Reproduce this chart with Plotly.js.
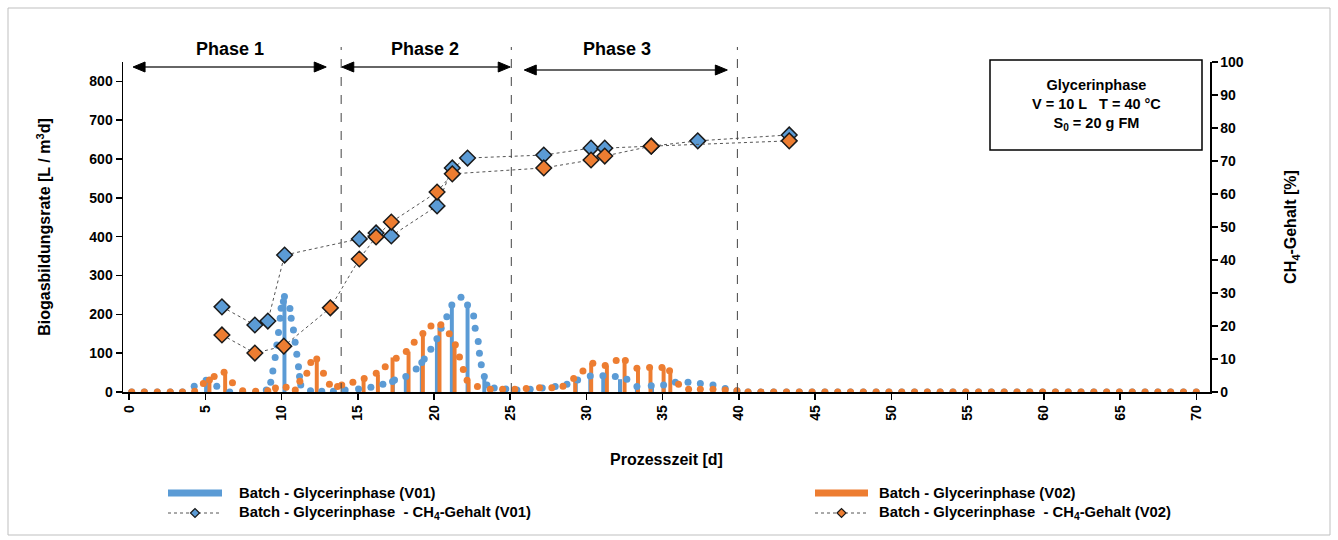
<!DOCTYPE html>
<html><head><meta charset="utf-8">
<script src="https://cdn.plot.ly/plotly-3.0.1.min.js"></script>
<style>html,body{margin:0;padding:0;background:#fff}#chart{width:1338px;height:540px}</style>
</head><body><div id="chart"></div>
<script>
// ---- Data ----
const tailDays = [40.6,41.44,42.28,43.12,43.96,44.8,45.64,46.48,47.32,48.16,49.0,49.84,50.68,51.52,52.36,53.2,54.04,54.88,55.72,56.56,57.4,58.24,59.08,59.92,60.76,61.6,62.44,63.28,64.12,64.96,65.8,66.64,67.48,68.32,69.16,70.0];
const tailRate = [0,0,0,0,0,0,0,0,0,0,0,0,0,0,0,0,0,0,0,0,0,0,0,0,0,0,0,0,0,0,0,0,0,0,0,0];

const daysV01 = [0.17,1.0,1.85,2.7,3.5,4.27,5.05,5.75,6.6,7.45,
  8.3,9.0,9.29,9.43,9.58,9.69,9.80,9.91,9.97,10.12,
  10.19,10.55,10.63,10.78,10.89,11.0,11.11,11.18,11.26,11.9,
  12.64,13.4,14.17,15.05,15.86,16.65,17.28,17.41,18.15,18.83,
  19.2,19.36,19.79,20.19,20.47,20.84,21.17,21.77,22.2,22.6,
  22.7,22.9,22.98,23.1,23.3,23.47,23.95,24.71,25.44,26.31,
  27.1,27.95,28.72,29.42,30.25,31.08,31.89,32.65,33.31,34.25,
  35.06,35.83,36.66,37.47,38.3,39.1,39.87];
const rateV01 = [0,0,0,0,0,15,30,15,0,0,
  0,5,25,54,89,121,153,190,216,233,
  246,215,190,160,128,97,65,40,18,3,
  2,2,5,8,12,20,27,31,40,59,
  76,85,110,137,164,194,224,244,224,196,
  164,130,100,70,40,18,10,8,5,7,
  10,14,20,31,41,42,40,33,14,16,
  18,25,25,22,18,9,3];

const daysV02 = [0.17,1.0,1.85,2.7,3.5,4.3,4.87,5.27,5.58,6.23,
  6.78,7.45,8.3,9.1,9.6,10.3,10.9,11.2,11.66,11.92,
  12.31,12.75,13.14,13.67,13.95,14.68,15.42,16.21,16.8,17.52,
  18.18,18.7,19.27,19.8,20.45,21.0,21.4,21.67,21.92,22.17,
  22.85,23.69,24.5,25.3,26.05,26.92,27.73,28.46,29.16,29.77,
  30.42,31.23,31.95,32.55,33.31,34.14,34.95,35.45,36.04,36.7,
  37.47,38.3,39.1,39.87];
const rateV02 = [0,0,0,0,0,2,22,31,40,51,
  24,3,2,3,10,12,5,28,48,76,
  85,48,20,14,18,25,35,48,65,87,
  104,128,151,170,173,150,122,90,58,30,
  14,7,7,7,9,11,11,15,35,54,
  74,68,81,81,61,63,63,55,20,7,
  7,7,5,3];

const barDaysV01 = [5.05,10.19,17.3,18.15,19.2,20.19,21.17,22.2,23.3,29.3,30.25,31.1,32.2,33.31,34.3,35.06];
const barRateV01 = [30,246,28,40,76,137,224,224,40,31,41,42,33,14,16,18];
const barDaysV02 = [5.27,6.3,9.6,12.31,15.38,16.32,17.28,18.33,19.27,20.36,21.35,22.27,29.26,30.31,31.34,32.5,33.38,34.2,35.06,35.5];
const barRateV02 = [31,51,10,85,35,45,89,104,153,175,128,27,35,74,68,81,61,61,63,55];

const ch4DaysV01 = [6.09,8.25,9.1,10.2,15.1,16.2,17.2,20.2,21.2,22.2,27.2,30.3,31.2,34.25,37.3,43.3];
const ch4V01 = [25.8,20.3,21.5,41.5,46.4,48.2,47.3,56.4,67.9,70.9,71.8,73.9,73.9,74.5,76.1,77.9];
const ch4DaysV02 = [6.09,8.25,10.15,13.2,15.1,16.2,17.2,20.2,21.2,27.2,30.3,31.2,34.25,43.3];
const ch4V02 = [17.3,11.8,13.9,25.5,40.3,47.0,51.5,60.6,66.1,67.9,70.3,71.5,74.5,76.1];

const phaseBounds = [13.91, 25.07, 39.9];
const phaseLabels = ['Phase 1','Phase 2','Phase 3'];
const xTicks = [0,5,10,15,20,25,30,35,40,45,50,55,60,65,70];

// ---- Styles ----
const BLUE = '#5B9BD5', ORANGE = '#ED7D31';
const FONT = 'Liberation Sans, Arial, sans-serif';

const traces = [
  {type:'bar', x:barDaysV01, y:barRateV01, width:0.26, marker:{color:BLUE}, showlegend:false, hoverinfo:'skip'},
  {type:'bar', x:barDaysV02, y:barRateV02, width:0.26, marker:{color:ORANGE}, showlegend:false, hoverinfo:'skip'},
  {type:'scatter', mode:'markers', x:daysV01.concat(tailDays), y:rateV01.concat(tailRate), marker:{color:BLUE, size:7}, showlegend:false},
  {type:'scatter', mode:'markers', x:daysV02.concat(tailDays), y:rateV02.concat(tailRate), marker:{color:ORANGE, size:7}, showlegend:false},
  {type:'scatter', mode:'lines+markers', x:ch4DaysV01, y:ch4V01, yaxis:'y2',
    line:{color:'#555', width:1, dash:'dot'},
    marker:{symbol:'diamond', size:12, color:BLUE, line:{color:'#1a1a1a', width:1.5}}, showlegend:false},
  {type:'scatter', mode:'lines+markers', x:ch4DaysV02, y:ch4V02, yaxis:'y2',
    line:{color:'#555', width:1, dash:'dot'},
    marker:{symbol:'diamond', size:12, color:ORANGE, line:{color:'#1a1a1a', width:1.5}}, showlegend:false}
];

// geometry helpers (paper coords)
const PW = 1087, PH = 330, L = 123;
const px = x => (x - L) / PW;
const py = y => (392 - y) / PH;

const shapes = [];
const annotations = [];

// outer frame
shapes.push({type:'rect', xref:'paper', yref:'paper', x0:px(8), x1:px(1330), y0:py(535), y1:py(8), line:{color:'#bfbfbf', width:1}});

// phase dashed lines
phaseBounds.forEach(d => shapes.push({type:'line', xref:'x', yref:'paper', x0:d, x1:d, y0:0, y1:py(47), line:{color:'#444', width:1, dash:'dash'}}));

// phase arrows
const arrows = [[0.26,12.93,67],[13.95,25.0,67],[25.92,39.24,70]];
const labelX = [6.63,19.42,32.02];
const dayPx = PW / 71.3;
arrows.forEach((a,i) => {
  const [d0,d1,yy] = a;
  const hl = 12/dayPx, hh = 5/PH;
  const yc = py(yy);
  shapes.push({type:'line', xref:'x', yref:'paper', x0:d0+hl*0.8, x1:d1-hl*0.8, y0:yc, y1:yc, line:{color:'#333', width:1.5}});
  shapes.push({type:'path', xref:'x', yref:'paper', path:`M ${d0} ${yc} L ${d0+hl} ${yc+hh} L ${d0+hl} ${yc-hh} Z`, fillcolor:'#000', line:{color:'#000', width:1}});
  shapes.push({type:'path', xref:'x', yref:'paper', path:`M ${d1} ${yc} L ${d1-hl} ${yc+hh} L ${d1-hl} ${yc-hh} Z`, fillcolor:'#000', line:{color:'#000', width:1}});
  annotations.push({xref:'x', yref:'paper', x:labelX[i], y:py(49), xanchor:'center', yanchor:'middle', text:phaseLabels[i], showarrow:false,
    font:{family:FONT, size:18, color:'#000', weight:'bold'}});
});

// info box
shapes.push({type:'rect', xref:'paper', yref:'paper', x0:px(990), x1:px(1202), y0:py(150), y1:py(60), line:{color:'#000', width:1.5}, fillcolor:'#fff', layer:'below'});
annotations.push({xref:'paper', yref:'paper', x:px(1096), y:py(105), xanchor:'center', yanchor:'middle',
  text:'Glycerinphase<br>V = 10 L   T = 40 °C<br>S<sub>0</sub> = 20 g FM',
  showarrow:false, align:'center', font:{family:FONT, size:14.5, color:'#000', weight:'bold'}});

// manual legend
const legendItems = [
  {x0:168, x1:222, tx:237, y:493, kind:'bar', color:BLUE, text:'Batch - Glycerinphase (V01)'},
  {x0:815, x1:868, tx:877, y:493, kind:'bar', color:ORANGE, text:'Batch - Glycerinphase (V02)'},
  {x0:168, x1:222, tx:237, y:513, kind:'line', color:BLUE, text:'Batch - Glycerinphase  - CH<sub>4</sub>-Gehalt (V01)'},
  {x0:815, x1:868, tx:877, y:513, kind:'line', color:ORANGE, text:'Batch - Glycerinphase  - CH<sub>4</sub>-Gehalt (V02)'}
];
legendItems.forEach(it => {
  if (it.kind === 'bar') {
    shapes.push({type:'rect', xref:'paper', yref:'paper', x0:px(it.x0), x1:px(it.x1), y0:py(it.y+3.5), y1:py(it.y-3.5), fillcolor:it.color, line:{width:0}});
  } else {
    shapes.push({type:'line', xref:'paper', yref:'paper', x0:px(it.x0), x1:px(it.x1), y0:py(it.y), y1:py(it.y), line:{color:'#555', width:1, dash:'dot'}});
    const cx = (it.x0 + it.x1)/2, r = 4.5;
    shapes.push({type:'path', xref:'paper', yref:'paper',
      path:`M ${px(cx-r)} ${py(it.y)} L ${px(cx)} ${py(it.y-r)} L ${px(cx+r)} ${py(it.y)} L ${px(cx)} ${py(it.y+r)} Z`,
      fillcolor:it.color, line:{color:'#1a1a1a', width:1.2}});
  }
  annotations.push({xref:'paper', yref:'paper', x:px(it.tx), y:py(it.y), xanchor:'left', yanchor:'middle', text:it.text, showarrow:false,
    font:{family:FONT, size:14.8, color:'#000', weight:'bold'}});
});

const tickFont = {family:FONT, size:14, color:'#000', weight:'bold'};
const titleFont = {family:FONT, size:16, color:'#000', weight:'bold'};
const layout = {
  width:1338, height:540,
  margin:{l:123, r:128, t:62, b:148, pad:0},
  paper_bgcolor:'#fff', plot_bgcolor:'#fff',
  barmode:'overlay',
  showlegend:false,
  font:{family:FONT, color:'#000'},
  xaxis:{range:[-0.4,70.9], tickvals:xTicks, ticktext:xTicks.map(String), tickangle:-90,
    ticks:'outside', ticklen:6, tickwidth:1.5, tickcolor:'#000', showline:true, linecolor:'#000', linewidth:1.5,
    showgrid:false, zeroline:false, tickfont:tickFont,
    title:{text:'Prozesszeit [d]', font:titleFont, standoff:34}},
  yaxis:{range:[0,850], tick0:0, dtick:100, ticks:'outside', ticklen:6, tickwidth:1.5, tickcolor:'#000',
    showline:true, linecolor:'#000', linewidth:1.5, showgrid:false, zeroline:false, tickfont:tickFont,
    title:{text:'Biogasbildungsrate [L / m<sup>3</sup>d]', font:titleFont, standoff:34}},
  yaxis2:{range:[0,100], tick0:0, dtick:10, overlaying:'y', side:'right', ticks:'outside', ticklen:6, tickwidth:1.5, tickcolor:'#000',
    showline:true, linecolor:'#000', linewidth:1.5, showgrid:false, zeroline:false, tickfont:tickFont,
    title:{text:'CH<sub>4</sub>-Gehalt [%]', font:titleFont, standoff:42}},
  shapes:shapes,
  annotations:annotations
};

Plotly.newPlot('chart', traces, layout, {displayModeBar:false, staticPlot:true});
</script>
</body></html>
